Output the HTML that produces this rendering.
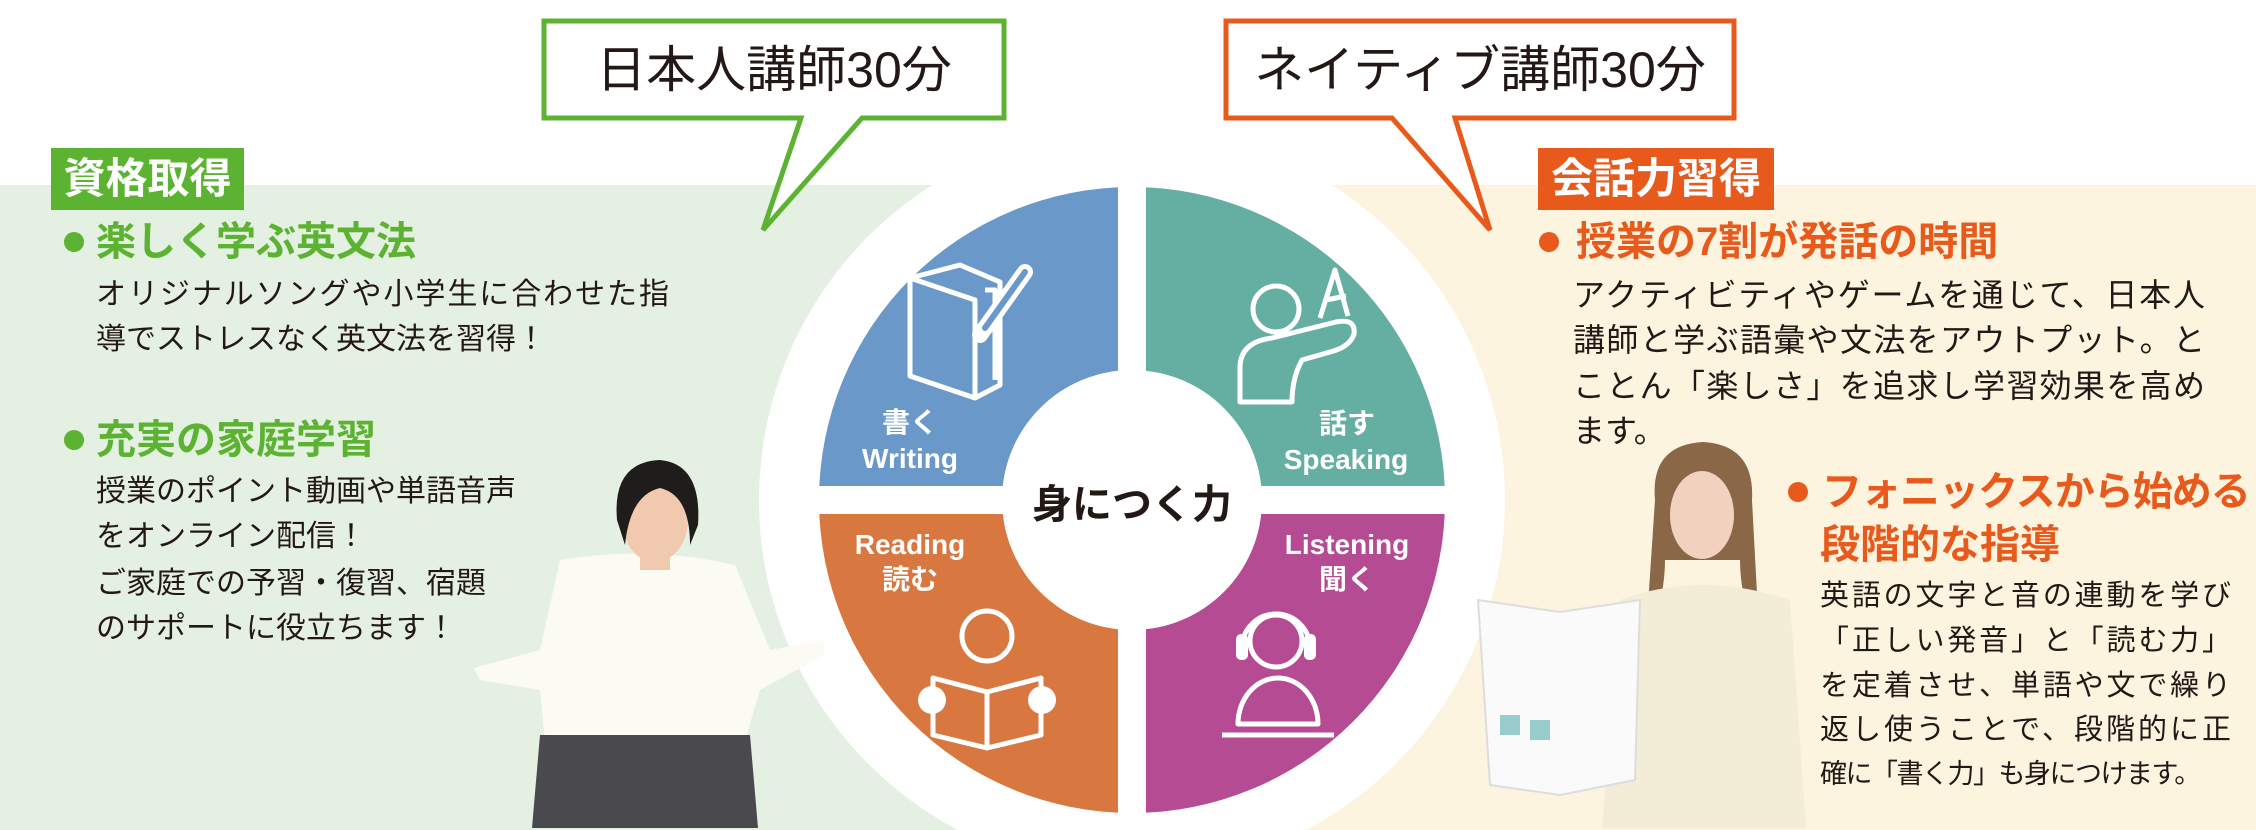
<!DOCTYPE html>
<html><head><meta charset="utf-8">
<style>
*{margin:0;padding:0;box-sizing:border-box}
html,body{width:2256px;height:830px;overflow:hidden}
body{background:#fff;font-family:"Liberation Sans","Noto Sans CJK JP",sans-serif;position:relative}
.a{position:absolute;white-space:nowrap}
.h{font-weight:700;font-size:40px;line-height:50px}
.g{color:#5bb331}.o{color:#e85a1c}
.b{font-size:30px;line-height:40px;color:#231815}
.j{text-align:justify;text-align-last:justify;white-space:normal}
.lab{color:#fff;font-weight:700;font-family:"Liberation Sans Narrow","Liberation Sans","Noto Sans CJK JP",sans-serif;font-size:28px;line-height:34px;text-align:center;width:140px}
</style></head><body>
<svg class="a" style="left:0;top:0" width="2256" height="830" viewBox="0 0 2256 830">
<rect x="0" y="185" width="1132" height="645" fill="#e4f1e2"/>
<rect x="1132" y="185" width="1124" height="645" fill="#fdf4e0"/>
<path d="M958,830 A373,373 0 1 1 1306,830 Z" fill="#fff"/>
<path d="M1132,500 L1132,187 A313,313 0 0 0 819,500 Z" fill="#6a98c8"/>
<path d="M1132,500 L1132,187 A313,313 0 0 1 1445,500 Z" fill="#64afa2"/>
<path d="M1132,500 L819,500 A313,313 0 0 0 1132,813 Z" fill="#d8773f"/>
<path d="M1132,500 L1445,500 A313,313 0 0 1 1132,813 Z" fill="#b44b93"/>
<rect x="1118" y="180" width="28" height="640" fill="#fff"/>
<rect x="810" y="486" width="644" height="28" fill="#fff"/>
<circle cx="1132" cy="500" r="130" fill="#fff"/>
<g fill="none" stroke="#fff" stroke-width="5" stroke-linejoin="round">
<path d="M910,278 L975,300 L975,398 L910,376 Z"/>
<path d="M910,278 L960,265 L1000,282 L1000,385 L975,398"/>
<path d="M985,290 L995,290 L995,380"/>
</g>
<path d="M1025,272 L980,335" stroke="#fff" stroke-width="16" stroke-linecap="round"/>
<path d="M1025,272 L985,328" stroke="#6a98c8" stroke-width="6" stroke-linecap="round"/>
<g fill="none" stroke="#fff" stroke-width="5" stroke-linejoin="round">
<circle cx="1276" cy="309" r="23"/>
<path d="M1240,402 L1240,368 Q1240,342 1272,338 L1336,322 Q1356,318 1354,334 Q1350,347 1330,352 L1302,360 Q1292,378 1292,402 Z"/>
<path d="M1320,318 L1335,270 L1348,316 M1326,300 L1346,296"/>
</g>
<g fill="none" stroke="#fff" stroke-width="5" stroke-linejoin="round">
<circle cx="987" cy="636" r="25"/>
<path d="M933,678 L987,692 L1041,678 L1041,735 L987,748 L933,735 Z M987,692 L987,748"/>
</g>
<circle cx="932" cy="700" r="14" fill="#fff"/><circle cx="1042" cy="700" r="14" fill="#fff"/>
<g fill="none" stroke="#fff" stroke-width="5" stroke-linejoin="round">
<circle cx="1276" cy="641" r="26"/>
<path d="M1242,648 A34,34 0 0 1 1310,648"/>
<path d="M1238,724 A40,46 0 0 1 1318,724 Z"/>
<path d="M1222,735 L1334,735"/>
</g>
<rect x="1236" y="634" width="12" height="26" rx="5" fill="#fff"/><rect x="1304" y="634" width="12" height="26" rx="5" fill="#fff"/>
<path d="M544,21 L1004,21 L1004,118 L862,118 L763,230 L801,118 L544,118 Z" fill="#fff" stroke="#5bb331" stroke-width="5"/>
<path d="M1226,21 L1734,21 L1734,118 L1455,118 L1490,230 L1392,118 L1226,118 Z" fill="#fff" stroke="#e85a1c" stroke-width="5"/>
<rect x="51" y="148" width="193" height="62" fill="#5bb331"/>
<rect x="1538" y="148" width="236" height="62" fill="#e85a1c"/>
<circle cx="74" cy="242" r="10" fill="#5bb331"/>
<circle cx="74" cy="440" r="10" fill="#5bb331"/>
<circle cx="1549" cy="242" r="10" fill="#e85a1c"/>
<circle cx="1798" cy="492" r="10" fill="#e85a1c"/>
<path d="M560,560 Q650,545 735,565 L770,650 L824,640 L824,655 L760,690 L745,740 L545,740 L540,690 L480,680 L474,668 L540,650 Z" fill="#fbfaf3"/>
<path d="M540,735 L750,735 L758,828 L532,828 Z" fill="#4a4a4e"/>
<ellipse cx="655" cy="520" rx="33" ry="42" fill="#f0c9ae"/>
<path d="M617,520 Q612,462 660,460 Q702,464 698,525 L690,545 Q690,495 660,488 Q630,495 625,545 Z" fill="#1f1c1c"/>
<rect x="640" y="555" width="30" height="15" fill="#f0c9ae"/>
<path d="M1655,500 Q1650,445 1703,442 Q1755,445 1752,500 L1760,650 Q1740,600 1740,560 L1665,560 Q1665,600 1645,650 Z" fill="#8a6847"/>
<ellipse cx="1702" cy="515" rx="32" ry="44" fill="#f2d2bf"/>
<path d="M1620,600 Q1700,570 1790,600 L1806,828 L1602,828 Z" fill="#f3ecd6"/>
<path d="M1478,600 L1560,612 L1640,600 L1635,780 L1560,795 L1490,785 Z" fill="#fafafa" stroke="#ddd" stroke-width="2"/>
<rect x="1500" y="715" width="20" height="20" fill="#9cc"/><rect x="1530" y="720" width="20" height="20" fill="#9cc"/>
</svg>
<div class="a" style="left:544px;top:40px;width:460px;text-align:center;font-size:50px;line-height:60px;color:#231815">日本人講師30分</div>
<div class="a" style="left:1226px;top:40px;width:508px;text-align:center;font-size:50px;line-height:60px;color:#231815">ネイティブ講師30分</div>
<div class="a" style="left:51px;top:154px;width:193px;text-align:center;font-size:42px;line-height:50px;color:#fff;font-weight:700">資格取得</div>
<div class="a" style="left:1538px;top:154px;width:236px;text-align:center;font-size:42px;line-height:50px;color:#fff;font-weight:700">会話力習得</div>

<div class="a h g" style="left:96px;top:217px">楽しく学ぶ英文法</div>
<div class="a b j" style="left:96px;top:275px;width:573px">オリジナルソングや小学生に合わせた指</div>
<div class="a b" style="left:96px;top:320px">導でストレスなく英文法を習得！</div>
<div class="a h g" style="left:96px;top:415px">充実の家庭学習</div>
<div class="a b" style="left:96px;top:472px">授業のポイント動画や単語音声</div>
<div class="a b" style="left:96px;top:517px">をオンライン配信！</div>
<div class="a b" style="left:96px;top:564px">ご家庭での予習・復習、宿題</div>
<div class="a b" style="left:96px;top:609px">のサポートに役立ちます！</div>

<div class="a h o" style="left:1576px;top:217px">授業の7割が発話の時間</div>
<div class="a b j" style="left:1573px;top:275px;width:632px;font-size:32px">アクティビティやゲームを通じて、日本人</div>
<div class="a b j" style="left:1573px;top:320px;width:632px;font-size:32px">講師と学ぶ語彙や文法をアウトプット。と</div>
<div class="a b j" style="left:1573px;top:366px;width:632px;font-size:32px">ことん「楽しさ」を追求し学習効果を高め</div>
<div class="a b" style="left:1573px;top:411px;font-size:32px">ます。</div>
<div class="a h o" style="left:1822px;top:467px;letter-spacing:-1px">フォニックスから始める</div>
<div class="a h o" style="left:1820px;top:520px">段階的な指導</div>
<div class="a b j" style="left:1820px;top:576px;width:411px;font-size:29px">英語の文字と音の連動を学び</div>
<div class="a b j" style="left:1820px;top:621px;width:411px;font-size:29px">「正しい発音」と「読む力」</div>
<div class="a b j" style="left:1820px;top:666px;width:411px;font-size:29px">を定着させ、単語や文で繰り</div>
<div class="a b j" style="left:1820px;top:710px;width:411px;font-size:29px">返し使うことで、段階的に正</div>
<div class="a b" style="left:1820px;top:754px;font-size:27px;letter-spacing:-1.5px">確に「書く力」も身につけます。</div>

<div class="a" style="left:1020px;top:480px;width:224px;text-align:center;font-size:40px;line-height:50px;color:#231815;font-weight:700">身につく力</div>
<div class="a lab" style="left:840px;top:406px">書く</div>
<div class="a lab" style="left:840px;top:442px">Writing</div>
<div class="a lab" style="left:1277px;top:407px">話す</div>
<div class="a lab" style="left:1276px;top:443px">Speaking</div>
<div class="a lab" style="left:840px;top:528px">Reading</div>
<div class="a lab" style="left:840px;top:563px">読む</div>
<div class="a lab" style="left:1277px;top:528px">Listening</div>
<div class="a lab" style="left:1277px;top:563px">聞く</div>
</body></html>
